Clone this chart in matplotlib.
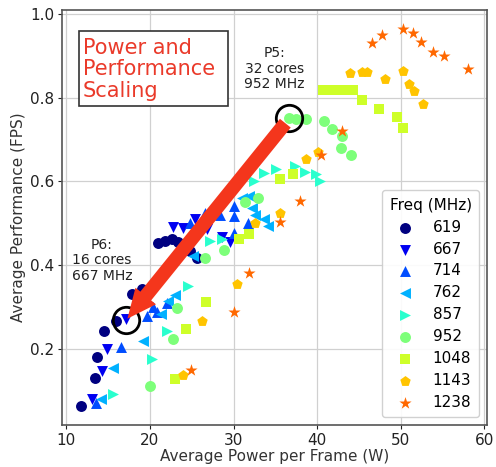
import matplotlib
matplotlib.use("Agg")
import matplotlib.pyplot as plt
import numpy as np
from matplotlib.patches import FancyArrowPatch, Rectangle

# Frequency settings (MHz) and their marker shapes
freqs = ["619", "667", "714", "762", "857", "952", "1048", "1143", "1238"]
markers = ["o", "v", "^", "<", ">", "o", "s", "p", "*"]

# Average power per frame (W) / average performance (FPS) per frequency
f619_x = [11.8, 13.4, 13.7, 14.5, 16.0, 17.9, 19.1, 21.0, 21.8, 22.6, 23.4, 24.8, 25.6]
f619_y = [0.065, 0.133, 0.183, 0.245, 0.268, 0.332, 0.343, 0.454, 0.458, 0.462, 0.455, 0.434, 0.418]

f667_x = [13.1, 14.3, 14.9, 17.2, 22.8, 24.0, 25.4, 26.8, 28.6, 29.6]
f667_y = [0.081, 0.148, 0.200, 0.272, 0.492, 0.490, 0.510, 0.486, 0.468, 0.455]

f714_x = [13.5, 16.6, 19.6, 20.4, 20.8, 22.0, 24.8, 26.6, 28.4, 30.0, 30.0, 30.0, 31.7]
f714_y = [0.073, 0.205, 0.280, 0.300, 0.288, 0.311, 0.502, 0.525, 0.520, 0.541, 0.518, 0.478, 0.500]

f762_x = [14.1, 15.6, 19.2, 21.3, 22.2, 23.0, 25.2, 31.0, 31.8, 32.2, 32.6, 33.7, 34.1]
f762_y = [0.083, 0.155, 0.220, 0.285, 0.315, 0.330, 0.422, 0.561, 0.565, 0.537, 0.521, 0.510, 0.494]

f857_x = [15.6, 20.3, 22.0, 24.5, 27.2, 28.6, 32.4, 33.7, 35.1, 37.3, 38.6, 39.8, 40.3]
f857_y = [0.095, 0.176, 0.244, 0.350, 0.458, 0.462, 0.602, 0.620, 0.630, 0.636, 0.622, 0.617, 0.600]

f952_x = [20.0, 22.8, 23.2, 26.6, 28.8, 31.4, 32.9, 36.6, 37.5, 38.7, 40.8, 41.8, 43.0, 42.9, 44.1]
f952_y = [0.112, 0.224, 0.298, 0.418, 0.438, 0.550, 0.561, 0.752, 0.750, 0.748, 0.744, 0.724, 0.708, 0.680, 0.664]

f1048_x = [23.0, 24.3, 26.7, 30.6, 31.8, 35.6, 37.1, 40.7, 41.6, 42.5, 43.4, 44.3, 45.3, 47.4, 49.5, 50.3]
f1048_y = [0.130, 0.248, 0.313, 0.462, 0.476, 0.605, 0.617, 0.819, 0.819, 0.819, 0.819, 0.819, 0.795, 0.773, 0.753, 0.728]

f1143_x = [23.9, 26.2, 30.4, 32.6, 35.5, 38.7, 40.1, 43.9, 45.3, 45.9, 48.1, 50.3, 51.0, 51.6, 52.7]
f1143_y = [0.140, 0.267, 0.355, 0.500, 0.525, 0.654, 0.671, 0.859, 0.860, 0.860, 0.845, 0.864, 0.833, 0.815, 0.785]

f1238_x = [24.9, 30.0, 31.9, 35.6, 37.9, 40.4, 43.0, 46.5, 47.7, 50.2, 51.5, 52.4, 53.8, 55.2, 58.0]
f1238_y = [0.152, 0.289, 0.383, 0.503, 0.553, 0.664, 0.720, 0.930, 0.950, 0.964, 0.954, 0.932, 0.908, 0.898, 0.867]

series_x = [f619_x, f667_x, f714_x, f762_x, f857_x, f952_x, f1048_x, f1143_x, f1238_x]
series_y = [f619_y, f667_y, f714_y, f762_y, f857_y, f952_y, f1048_y, f1143_y, f1238_y]

# Highlighted configurations
p5_point = (36.6, 0.752)
p6_point = (17.2, 0.270)

colors = plt.cm.jet(np.linspace(0, 0.8, len(freqs)))

fig = plt.figure(figsize=(4.96, 4.67), dpi=100)
ax = fig.add_axes([0.125, 0.09, 0.857, 0.889])

for xs, ys, m, c, lab in zip(series_x, series_y, markers, colors, freqs):
    size = 85 if m == "*" else 62
    ax.scatter(xs, ys, marker=m, s=size, color=c, linewidths=0, label=lab, zorder=3)

ax.grid(True, color="#d0d0d0", linewidth=0.9, zorder=0)
ax.set_axisbelow(True)
for sp in ax.spines.values():
    sp.set_color("#555555")
    sp.set_linewidth(1.2)

ax.tick_params(labelsize=11, colors="#222222", length=3, pad=2.5)
ax.set_xlabel("Average Power per Frame (W)", fontsize=11, color="#333333", labelpad=1)
ax.set_ylabel("Average Performance (FPS)", fontsize=11, color="#333333", labelpad=3)

# Circles marking the two configurations
for pt in (p5_point, p6_point):
    ax.plot(*pt, marker="o", markersize=19, markerfacecolor="none",
            markeredgecolor="black", markeredgewidth=2, zorder=5)

# Scaling arrow from P5 down to P6
arrow = FancyArrowPatch((p5_point[0] - 0.2, p5_point[1] - 0.008),
                        (p6_point[0] - 0.1, p6_point[1] - 0.002),
                        arrowstyle="simple,head_length=1.05,head_width=0.95,tail_width=0.5",
                        mutation_scale=20, color="#f4361c", linewidth=0, zorder=6)
ax.add_patch(arrow)

ax.text(34.9, 0.869, "P5:\n32 cores\n952 MHz", ha="center", va="center",
        fontsize=10, color="#222222", linespacing=1.15, zorder=7)
ax.text(14.25, 0.412, "P6:\n16 cores\n667 MHz", ha="center", va="center",
        fontsize=10, color="#222222", linespacing=1.15, zorder=7)

# Title box
ax.add_patch(Rectangle((0.040, 0.769), 0.351, 0.180, transform=ax.transAxes,
                       facecolor="white", edgecolor="#333333", linewidth=1.2, zorder=7))
ax.text(0.049, 0.857, "Power and\nPerformance\nScaling", transform=ax.transAxes,
        ha="left", va="center", fontsize=15, color="#ea3a2a", linespacing=1.1,
        zorder=8)

ax.legend(title="Freq (MHz)", loc="lower right", fontsize=11, title_fontsize=11,
          handletextpad=0.8, borderpad=0.5, labelspacing=0.45, framealpha=0.9)

fig.savefig("out.png", dpi=100)
